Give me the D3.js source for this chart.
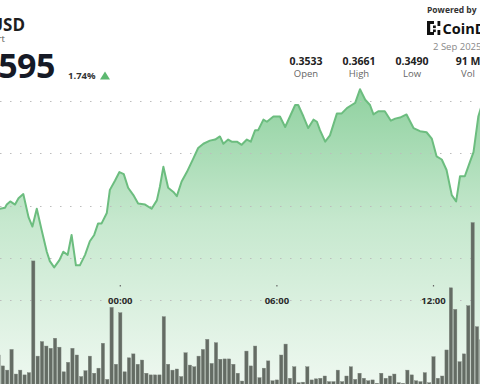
<!DOCTYPE html>
<html><head><meta charset="utf-8">
<script src="https://cdn.jsdelivr.net/npm/d3@7"></script>
<style>
html,body{margin:0;padding:0;background:#fff;overflow:hidden;}
svg{display:block;font-family:"Open Sans","Noto Sans",sans-serif;}
</style></head>
<body>
<svg id="chart" width="480" height="384"></svg>
<script>
// ---- data ----
const pair = "XLM/USD";
const subtitle = "24h Chart";
const lastPrice = "0.3595";
const changePct = "1.74%";
const statLabels = ["Open", "High", "Low", "Vol"];
const statValues = ["0.3533", "0.3661", "0.3490", "91 M"];
const dateLabel = "2 Sep 2025";
// price line: minutes from 2 Sep 2025 00:00 and price
const lineMinutes = [-277,-265,-261,-253,-242,-234,-223,-211,-202,-192,-181,-169,-162,-152,-140,-131,-121,-112,-102,-93,-81,-70,-60,-51,-43,-31,-24,-12,-2,8,18,30,41,57,72,84,91,99,110,122,130,141,153,168,179,191,206,218,229,237,248,256,268,279,291,300,310,317,329,337,352,367,379,390,402,409,421,432,444,452,459,471,482,498,509,521,532,540,551,563,574,582,593,608,622,632,643,658,674,689,704,716,727,739,750,762,772,781,792,804,812,823,831];
const linePrices = [0.3547,0.3548,0.3551,0.3554,0.3551,0.3557,0.3561,0.3539,0.3530,0.3547,0.3527,0.3506,0.3497,0.3491,0.3498,0.3506,0.3503,0.3522,0.3493,0.3493,0.3503,0.3516,0.3522,0.3533,0.3533,0.3543,0.3565,0.3574,0.3582,0.3580,0.3567,0.3560,0.3552,0.3551,0.3547,0.3555,0.3568,0.3587,0.3567,0.3563,0.3559,0.3573,0.3582,0.3595,0.3605,0.3609,0.3612,0.3613,0.3616,0.3609,0.3613,0.3611,0.3611,0.3608,0.3613,0.3611,0.3622,0.3622,0.3632,0.3630,0.3635,0.3635,0.3625,0.3635,0.3646,0.3646,0.3635,0.3624,0.3632,0.3630,0.3622,0.3611,0.3617,0.3638,0.3638,0.3643,0.3646,0.3648,0.3661,0.3651,0.3646,0.3637,0.3640,0.3640,0.3631,0.3633,0.3634,0.3637,0.3624,0.3621,0.3620,0.3614,0.3597,0.3594,0.3584,0.3560,0.3554,0.3578,0.3578,0.3592,0.3601,0.3635,0.3646];
// volume bars: 10-minute buckets starting 1 Sep 2025 19:20 (millions)
const volStartMinute = -280;
const volumes = [1.25,0.86,0.71,1.45,0.57,0.71,0.54,0.62,4.61,1.21,1.73,1.57,1.49,1.85,1.53,0.65,0.99,1.49,1.25,0.48,0.69,1.21,0.60,0.78,1.67,0.38,2.95,0.92,
 2.76,0.65,1.15,1.29,0.92,1.07,0.60,0.54,0.54,0.54,2.62,0.92,0.71,0.75,0.48,1.33,0.89,0.83,1.21,1.45,1.81,0.95,1.69,1.10,1.11,1.11,0.92,0.60,0.32,1.39,0.86,1.57,0.44,0.78,1.04,0.33,0.36,1.25,1.64,0.42,0.83,0.26,0.28,0.83,0.36,0.40,0.42,
 0.50,0.30,0.30,0.71,0.30,0.50,0.83,0.38,0.60,0.42,0.33,0.36,0.24,0.60,0.42,0.50,0.57,0.26,0.24,0.71,0.54,0.33,0.30,0.62,0.26,1.19,0.42,0.50,1.43,3.65,2.88,1.01,1.29,3.01,5.98,2.26,1.79];
const gridPrices = [0.35, 0.355, 0.36, 0.365];
const tickLabels = ["00:00", "06:00", "12:00"];

// ---- scales ----
const day0 = new Date(2025, 8, 2, 0, 0);
const t = m => d3.timeMinute.offset(day0, m);
const parseHM = s => { const [h, m] = s.split(":").map(Number); return t(h * 60 + m); };
const x = d3.scaleTime().domain([t(0), t(720)]).range([120.3, 433.5]);
const y = d3.scaleLinear().domain([0.345, 0.365]).range([310.4, 100.8]);
const yv = d3.scaleLinear().domain([0, 6]).range([390, 222]);

const svg = d3.select("#chart");
const defs = svg.append("defs");
const grad = defs.append("linearGradient").attr("id", "areaGrad")
  .attr("gradientUnits", "userSpaceOnUse").attr("x1", 0).attr("x2", 0).attr("y1", 88).attr("y2", 384);
grad.append("stop").attr("offset", "0%").attr("stop-color", "#8fd19f");
grad.append("stop").attr("offset", "45%").attr("stop-color", "#c6e8ce");
grad.append("stop").attr("offset", "100%").attr("stop-color", "#eef8f0");

const pts = lineMinutes.map((m, i) => ({ t: t(m), p: linePrices[i] }));

// area
svg.append("path").datum(pts)
  .attr("fill", "url(#areaGrad)")
  .attr("d", d3.area().x(d => x(d.t)).y0(384).y1(d => y(d.p)));

// grid lines
svg.append("g").selectAll("line").data(gridPrices).join("line")
  .attr("x1", 0).attr("x2", 480)
  .attr("y1", d => Math.round(y(d)) + 0.5).attr("y2", d => Math.round(y(d)) + 0.5)
  .attr("stroke", "#bdbdbd").attr("stroke-width", 1).attr("stroke-dasharray", "1.5,8.5");

// x axis (dotted baseline + labels)
const axisY = 300.5;
svg.append("line").attr("x1", 0).attr("x2", 480).attr("y1", axisY).attr("y2", axisY)
  .attr("stroke", "#bdbdbd").attr("stroke-dasharray", "1.5,8.5");
const xa = svg.append("g").selectAll("g").data(tickLabels).join("g")
  .attr("transform", d => `translate(${x(parseHM(d))},0)`);
xa.append("rect").attr("x", -0.6).attr("y", 285).attr("width", 1.2).attr("height", 1.5).attr("fill", "#666");
xa.append("text").attr("y", 304.3).attr("text-anchor", "middle")
  .attr("font-size", 9.5).attr("font-weight", 700).attr("fill", "#2b2b2b").text(d => d);

// line
svg.append("path").datum(pts)
  .attr("fill", "none").attr("stroke", "#6cbd7f").attr("stroke-width", 2)
  .attr("stroke-linejoin", "round")
  .attr("d", d3.line().x(d => x(d.t)).y(d => y(d.p)));

// volume bars
const bw = 3.3;
svg.append("g").selectAll("rect").data(volumes).join("rect")
  .attr("x", (d, i) => x(t(volStartMinute + i * 10)) - bw / 2)
  .attr("width", bw)
  .attr("y", d => yv(d))
  .attr("height", d => yv(0) - yv(d))
  .attr("fill", "#646c64").attr("stroke", "#7e857e").attr("stroke-width", 0.4);

// header texts
svg.append("text").attr("x", 25).attr("y", 30.7).attr("text-anchor", "end")
  .attr("font-size", 17).attr("font-weight", 700).attr("fill", "#1e1e1e").text(pair);
svg.append("text").attr("x", 5).attr("y", 41.5).attr("text-anchor", "end")
  .attr("font-size", 9.5).attr("fill", "#555").text(subtitle);
svg.append("text").attr("x", 55).attr("y", 78.3).attr("text-anchor", "end")
  .attr("font-size", 34).attr("font-weight", 700).attr("fill", "#161a26").attr("letter-spacing", -0.5).text(lastPrice);
svg.append("text").attr("x", 68).attr("y", 79).attr("font-size", 9.5).attr("font-weight", 700)
  .attr("fill", "#333").text(changePct);
svg.append("path").attr("d", "M100,79.5 L105,71.5 L110,79.5 Z").attr("fill", "#5cb870");

const statX = [306, 359, 412, 468];
const sg = svg.append("g").selectAll("g").data(statValues).join("g")
  .attr("transform", (d, i) => `translate(${statX[i]},0)`);
sg.append("text").attr("y", 65).attr("text-anchor", "middle").attr("font-size", 10.5)
  .attr("font-weight", 700).attr("fill", "#222").text(d => d);
sg.append("text").attr("y", 76.5).attr("text-anchor", "middle").attr("font-size", 9.5)
  .attr("fill", "#666").text((d, i) => statLabels[i]);

svg.append("text").attr("x", 427).attr("y", 13).attr("font-size", 8.5).attr("font-weight", 700)
  .attr("fill", "#333").text("Powered by");
// CoinDesk logo mark
const logo = svg.append("g").attr("fill", "#111");
[[427,21,3.2,14],[427,21,7,3],[427,32,7,3],[433,25.5,2.8,2.6],[433,29.5,2.8,2.6],[437.5,21,2.8,5],[437.5,30,2.8,5]]
  .forEach(r => logo.append("rect").attr("x", r[0]).attr("y", r[1]).attr("width", r[2]).attr("height", r[3]));
svg.append("text").attr("x", 442.5).attr("y", 33.5).attr("font-size", 14.5).attr("font-weight", 700)
  .attr("fill", "#111").text("CoinDesk");
svg.append("text").attr("x", 433).attr("y", 49.5).attr("font-size", 9.5)
  .attr("fill", "#8a8a8a").text(dateLabel);
</script>
</body></html>
